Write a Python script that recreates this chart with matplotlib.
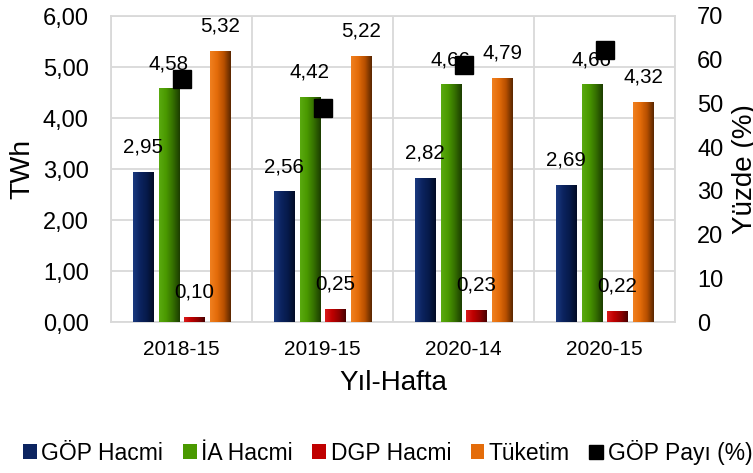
import numpy as np
import matplotlib.pyplot as plt
from matplotlib import colors
from matplotlib.lines import Line2D
from matplotlib.ticker import FuncFormatter, MultipleLocator

plt.rcParams['font.family'] = ['Liberation Sans', 'DejaVu Sans']

# data
weeks = ['2018-15', '2019-15', '2020-14', '2020-15']
gop_hacmi = [2.95, 2.56, 2.82, 2.69]
ia_hacmi = [4.58, 4.42, 4.66, 4.66]
dgp_hacmi = [0.10, 0.25, 0.23, 0.22]
tuketim = [5.32, 5.22, 4.79, 4.32]
gop_payi = [55.5, 49.0, 58.9, 62.3]

series = [
    ('GÖP Hacmi', gop_hacmi, ['#1a3a80', '#0c2460', '#061a4a', '#020b25']),
    ('İA Hacmi', ia_hacmi, ['#5aaa10', '#4a9900', '#357000', '#1c3d00']),
    ('DGP Hacmi', dgp_hacmi, ['#d81c1c', '#c00000', '#900000', '#4a0000']),
    ('Tüketim', tuketim, ['#f08020', '#e46c0a', '#b85000', '#5a2600']),
]

fig = plt.figure(figsize=(7.53, 4.73), dpi=100)
ax = fig.add_axes([111 / 753, 1 - 322 / 473, 564 / 753, 306 / 473])

x = np.arange(len(weeks))
bar_w = 0.142
step = 0.184
offsets = (np.arange(len(series)) - 1.5) * step

handles = []
for i, (name, vals, grad) in enumerate(series):
    cmap = colors.LinearSegmentedColormap.from_list(name, grad)
    bars = ax.bar(x + offsets[i], vals, width=bar_w, color=grad[1],
                  edgecolor='none', zorder=3, label=name)
    for b in bars:
        bx, bw, bh = b.get_x(), b.get_width(), b.get_height()
        img = ax.imshow(np.linspace(0, 1, 64).reshape(1, -1), cmap=cmap,
                        extent=(bx, bx + bw, 0, bh), aspect='auto', zorder=3.1)
        img.set_clip_path(b)
    for xi, v in zip(x + offsets[i], vals):
        ax.annotate(f'{v:.2f}'.replace('.', ','), (xi, v), xytext=(0, 11),
                    textcoords='offset points', ha='center', va='bottom',
                    fontsize=14.8, zorder=5)
    handles.append(bars)

ax.set_xlim(-0.5, 3.5)
ax.set_ylim(0, 6)
ax.yaxis.set_major_locator(MultipleLocator(1))
ax.yaxis.set_major_formatter(FuncFormatter(lambda v, p: f'{v:.2f}'.replace('.', ',')))
ax.set_xticks(x)
ax.set_xticklabels(weeks, fontsize=15)
ax.set_xticks(np.arange(-0.5, 4, 1), minor=True)
ax.tick_params(axis='x', which='both', length=0, pad=13)
ax.tick_params(axis='y', length=0, pad=16, labelsize=17)
ax.grid(axis='y', color='#d9d9d9', lw=1.3, zorder=0)
ax.grid(axis='x', which='minor', color='#d9d9d9', lw=1.3, zorder=0)
ax.set_axisbelow(True)
for s in ax.spines.values():
    s.set_color('#d9d9d9')
    s.set_linewidth(1.3)
ax.set_ylabel('TWh', fontsize=20.5, labelpad=5)
ax.set_xlabel('Yıl-Hafta', fontsize=20, labelpad=8)

ax2 = ax.twinx()
ax2.plot(x, gop_payi, ls='none', marker='s', ms=12.5, color='black', zorder=6)
ax2.set_ylim(0, 70)
ax2.yaxis.set_major_locator(MultipleLocator(10))
ax2.tick_params(axis='y', length=0, pad=16, labelsize=17)
for s in ax2.spines.values():
    s.set_visible(False)
ax2.set_ylabel('Yüzde (%)', fontsize=20, labelpad=6)

mk = Line2D([], [], ls='none', marker='s', ms=9.5, color='black')
labels = [s[0] for s in series] + ['GÖP Payı (%)']
leg = fig.legend(handles + [mk], labels, loc='center', ncol=5,
                 bbox_to_anchor=(0.515, 1 - 452 / 473), frameon=False,
                 fontsize=16.5, handlelength=0.6, handleheight=0.6,
                 handletextpad=0.2, columnspacing=0.85, borderpad=0)

fig.savefig('out.png', dpi=100)
